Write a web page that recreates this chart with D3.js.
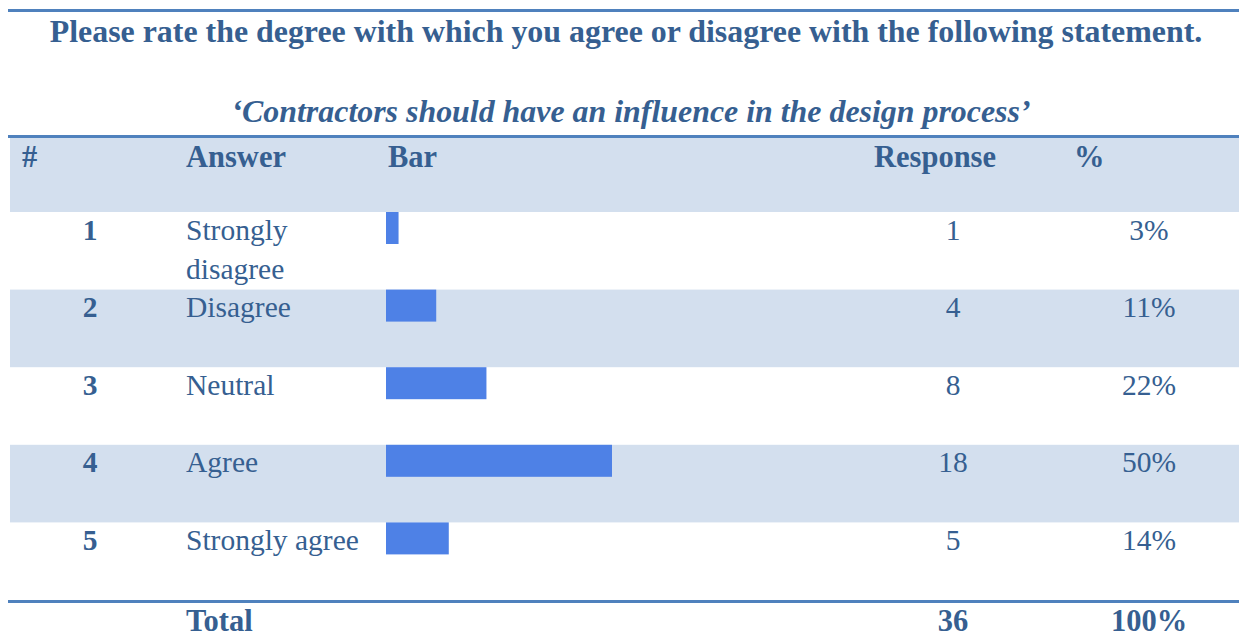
<!DOCTYPE html>
<html><head><meta charset="utf-8">
<script src="https://cdn.jsdelivr.net/npm/d3@7/dist/d3.min.js"></script>
<style>
html,body{margin:0;padding:0;background:#fff;}
svg{display:block;font-family:"Liberation Serif","Times New Roman",serif;}
</style></head>
<body>
<svg id="chart" width="1239" height="639"></svg>
<script>
const title = "Please rate the degree with which you agree or disagree with the following statement.";
const subtitle = "\u2018Contractors should have an influence in the design process\u2019";
const headers = ["#", "Answer", "Bar", "Response", "%"];
const ids = [1, 2, 3, 4, 5];
const answers = [["Strongly", "disagree"], ["Disagree"], ["Neutral"], ["Agree"], ["Strongly agree"]];
const responses = [1, 4, 8, 18, 5];
const percents = ["3%", "11%", "22%", "50%", "14%"];
const totalLabel = "Total";
const totalResponses = 36;
const totalPercent = "100%";

const W = 1239, H = 639;
const textColor = "#365f91", lineColor = "#4f81bd", bandColor = "#d3dfee", barColor = "#4e81e6";
const svg = d3.select("#chart");

const y = d3.scaleBand().domain(ids).range([212, 600]).paddingInner(0).paddingOuter(0);
const x = d3.scaleLinear().domain([0, 18]).range([386, 612]);

svg.append("text").attr("x", 626).attr("y", 42).attr("text-anchor", "middle")
  .attr("font-weight", "bold").attr("font-size", 31.9).attr("fill", textColor).text(title);
svg.append("text").attr("x", 631).attr("y", 122).attr("text-anchor", "middle")
  .attr("font-weight", "bold").attr("font-style", "italic").attr("font-size", 31.9).attr("fill", textColor).text(subtitle);

svg.append("rect").attr("x", 8).attr("y", 9).attr("width", W - 8).attr("height", 3).attr("fill", lineColor);
svg.append("rect").attr("x", 10).attr("y", 137).attr("width", W - 10).attr("height", 75).attr("fill", bandColor);
svg.append("rect").attr("x", 8).attr("y", 135).attr("width", W - 8).attr("height", 3).attr("fill", lineColor);

svg.selectAll("rect.band").data(ids.filter(d => d % 2 === 0)).join("rect").attr("class", "band")
  .attr("x", 10).attr("y", d => y(d)).attr("width", W - 10).attr("height", y.bandwidth()).attr("fill", bandColor);

svg.append("rect").attr("x", 8).attr("y", 600).attr("width", W - 8).attr("height", 3).attr("fill", lineColor);

const colX = [22, 186, 388, 874, 1074];
svg.selectAll("text.hdr").data(headers).join("text").attr("class", "hdr")
  .attr("x", (d, i) => colX[i]).attr("y", 167).attr("font-weight", "bold").attr("font-size", 30.5)
  .attr("fill", textColor).text(d => d);

svg.selectAll("rect.bar").data(ids).join("rect").attr("class", "bar")
  .attr("x", x(0)).attr("y", d => y(d)).attr("width", (d, i) => x(responses[i]) - x(0))
  .attr("height", 32).attr("fill", barColor);

const rows = svg.selectAll("g.row").data(ids).join("g").attr("class", "row")
  .attr("transform", d => `translate(0,${y(d) + 27.5})`);
rows.append("text").attr("x", 90).attr("text-anchor", "middle").attr("font-weight", "bold")
  .attr("font-size", 29.5).attr("fill", textColor).text(d => d);
rows.each(function(d, i) {
  const t = d3.select(this).append("text").attr("x", 186).attr("font-size", 29.5).attr("fill", textColor);
  answers[i].forEach((ln, j) => t.append("tspan").attr("x", 186).attr("dy", j === 0 ? 0 : 39).text(ln));
});
rows.append("text").attr("x", 953).attr("text-anchor", "middle").attr("font-size", 29.5)
  .attr("fill", textColor).text((d, i) => responses[i]);
rows.append("text").attr("x", 1149).attr("text-anchor", "middle").attr("font-size", 29.5)
  .attr("fill", textColor).text((d, i) => percents[i]);

svg.append("text").attr("x", 186).attr("y", 631).attr("font-weight", "bold").attr("font-size", 30.5)
  .attr("fill", textColor).text(totalLabel);
svg.append("text").attr("x", 953).attr("y", 631).attr("text-anchor", "middle").attr("font-weight", "bold").attr("font-size", 30.5)
  .attr("fill", textColor).text(totalResponses);
svg.append("text").attr("x", 1149).attr("y", 631).attr("text-anchor", "middle").attr("font-weight", "bold").attr("font-size", 30.5)
  .attr("fill", textColor).text(totalPercent);
</script>
</body></html>
